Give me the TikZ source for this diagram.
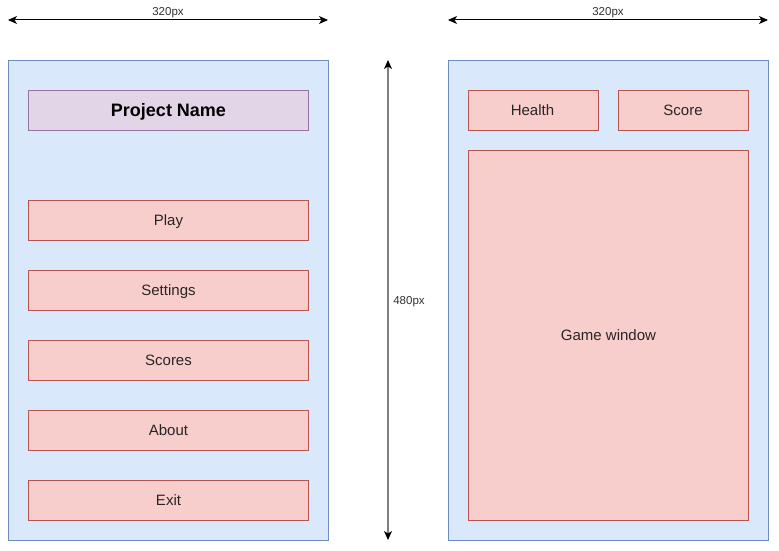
\documentclass[tikz,border=0pt]{standalone}
\usepackage{fontspec}
\setmainfont{Liberation Sans}
\usetikzlibrary{arrows.meta}
\definecolor{panelfill}{HTML}{DAE8FC}
\definecolor{paneldraw}{HTML}{6C8EBF}
\definecolor{titlefill}{HTML}{E1D5E7}
\definecolor{titledraw}{HTML}{9673A6}
\definecolor{btnfill}{HTML}{F8CECC}
\definecolor{btndraw}{HTML}{B85450}
\definecolor{dimgrey}{HTML}{808080}
\begin{document}
\begin{tikzpicture}[x=1pt,y=-1pt,
  panel/.style={draw=paneldraw,fill=panelfill,line width=0.8pt},
  titlebox/.style={draw=titledraw,fill=titlefill,line width=0.8pt},
  btn/.style={draw=btndraw,fill=btnfill,line width=0.8pt},
  btntext/.style={font=\fontsize{15}{18}\selectfont,text=black!85,
    inner sep=0pt,text height=10.8pt,text depth=0pt},
  tip/.tip={Stealth[length=9pt,width=8pt,inset=2.5pt,color=black]},
  dimarrow/.style={line width=1pt,tip-tip},
  dimlabel/.style={font=\fontsize{11.5}{14}\selectfont,text=black!80,
    inner sep=0pt,text height=8.3pt,text depth=0pt}]
\useasboundingbox (0,0) rectangle (779,551);

% width markers above the two screens
\coordinate (wl1) at (8,20); \coordinate (wl2) at (328,20);
\coordinate (wr1) at (448,20); \coordinate (wr2) at (768,20);
\draw[dimarrow] (wl1) -- (wl2);
\draw[dimarrow] (wr1) -- (wr2);
\node[dimlabel] (wlabl) at (168,11) {320px};
\node[dimlabel] (wlabr) at (608,11) {320px};

% height marker between the screens
\coordinate (h1) at (388,60); \coordinate (h2) at (388,540);
\draw[dimarrow,draw=dimgrey,line width=1.3pt] (h1) -- (h2);
\node[dimlabel] (hlab) at (409,300) {480px};

% main menu screen
\draw[panel] (8.5,60.5) rectangle (328.5,540.5);
\draw[titlebox] (28.5,90.5) rectangle (308.5,130.5);
\node[font=\fontsize{18}{21}\selectfont\bfseries,inner sep=0pt,
  text height=13pt,text depth=0pt] (title) at (168.5,109.5) {Project Name};
\foreach \y/\t/\n in {200/Play/play,270/Settings/settings,340/Scores/scores,410/About/about,480/Exit/exit}{
  \draw[btn] (28.5,\y+.5) rectangle (308.5,\y+40.5);
  \node[btntext] (\n) at (168.5,\y+20) {\t};
}

% game screen
\draw[panel] (448.5,60.5) rectangle (768.5,540.5);
\draw[btn] (468.5,90.5) rectangle (598.5,130.5);
\node[btntext] (health) at (532.5,110) {Health};
\draw[btn] (618.5,90.5) rectangle (748.5,130.5);
\node[btntext] (score) at (683,110) {Score};
\draw[btn] (468.5,150.5) rectangle (748.5,520.5);
\node[btntext] (game) at (608.5,335) {Game window};
\end{tikzpicture}
\end{document}
